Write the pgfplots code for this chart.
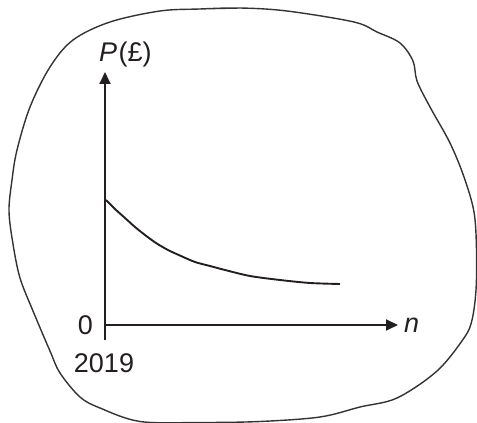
\documentclass[border=0pt]{standalone}
\usepackage{fontspec}
\setmainfont{Liberation Sans}
\usepackage{pgfplots}
\pgfplotsset{compat=1.18}
\usetikzlibrary{arrows.meta}
\definecolor{ink}{HTML}{231F20}
\definecolor{blob}{HTML}{333333}
\begin{document}
\begin{tikzpicture}
\begin{axis}[
  width=477pt, height=423pt, scale only axis,
  xmin=0, xmax=477, ymin=0, ymax=423,
  hide axis, clip=true,
]
% blob outline (pixel coords, y = 423 - row)
\addplot[blob, line width=1.4pt, smooth, tension=0.55] coordinates {
(200,414) (240,415) (287,412) (354,401) (377,391) (400,380) (413,362) (417,342) (430,316)
(450,280) (464,246) (474,211) (476.5,173) (476,133) (472,103) (464,85) (437,52)
(397,25) (360,16) (320,6) (260,1.5) (200,0.5) (140,1.5) (100,15) (80,26) (60,50)
(50,72) (33,112) (20,145) (13,179) (9,212) (12,243) (17,273) (30,316) (50,356)
(73,383) (110,401) (160,412) (200,414) (240,415)
};
% y axis
\addplot[ink, line width=1.9pt, -{Triangle[length=12pt,width=11pt]}] coordinates {(105,83) (105,351)};
% x axis
\addplot[ink, line width=1.9pt, -{Triangle[length=12pt,width=11pt]}] coordinates {(104,98) (398,98)};
% curve
\addplot[ink, line width=1.9pt, smooth] coordinates {
(106,223) (115,214) (125,205) (135,196) (145,188) (156,180) (168,173) (181,167)
(195,161) (210,157) (225,153) (250,147) (280,143) (310,140) (340,139)
};
\node[anchor=base west, inner sep=0pt, text=ink] at (axis cs:99,361) {\fontsize{27}{32}\selectfont\textit{P}\kern1.5pt(£)};
\node[anchor=base east, inner sep=0pt, text=ink] at (axis cs:93,88) {\fontsize{27}{32}\selectfont 0};
\node[anchor=base, inner sep=0pt, text=ink] at (axis cs:104,50) {\fontsize{27}{32}\selectfont 2019};
\node[anchor=base west, inner sep=0pt, text=ink] at (axis cs:404,90) {\fontsize{27}{32}\selectfont\textit{n}};
\end{axis}
\pgfresetboundingbox
\useasboundingbox (current axis.south west) rectangle (current axis.north east);
\end{tikzpicture}
\end{document}
